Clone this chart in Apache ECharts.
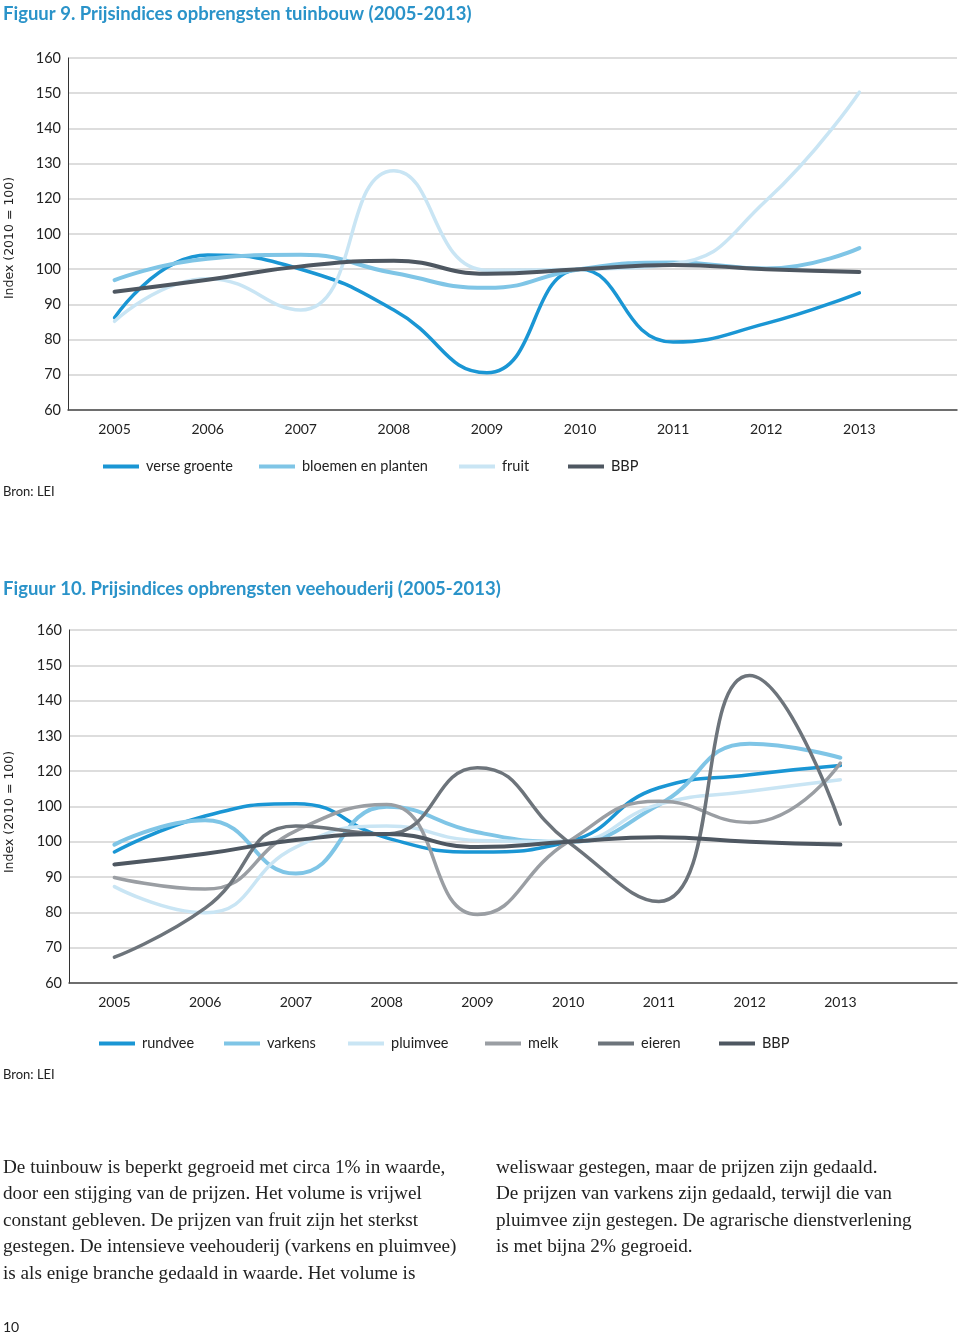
<!DOCTYPE html>
<html>
<head>
<meta charset="utf-8">
<script src="https://cdn.jsdelivr.net/npm/echarts@6/dist/echarts.min.js"></script>
<style>
html,body{margin:0;padding:0;background:#fff;}
#c{width:960px;height:1333px;}
</style>
</head>
<body>
<div id="c"></div>
<script>
// ---- data ----
const years = [2005, 2006, 2007, 2008, 2009, 2010, 2011, 2012, 2013];
const yTickLabels = ['60', '70', '80', '90', '100', '100', '120', '130', '140', '150', '160'];

// Figuur 9 - tuinbouw
const verseGroente = [86.2, 104.0, 100.0, 88.4, 70.6, 100.0, 79.3, 84.6, 93.3];
const bloemenPlanten = [96.9, 103.0, 104.1, 98.9, 94.7, 100.0, 101.9, 100.2, 106.0];
const fruit = [85.2, 97.3, 88.4, 128.0, 99.7, 100.0, 101.5, 119.5, 150.3];
const bbp = [93.6, 97.0, 100.8, 102.4, 98.7, 100.0, 101.2, 100.0, 99.2];

// Figuur 10 - veehouderij
const rundvee = [97.1, 107.3, 110.8, 101.1, 97.1, 100.0, 115.3, 119.0, 121.6];
const varkens = [99.2, 106.1, 91.0, 109.9, 102.7, 100.0, 110.5, 127.8, 123.8];
const pluimvee = [87.3, 79.9, 98.5, 104.5, 100.4, 100.0, 110.6, 114.3, 117.6];
const melk = [89.9, 86.6, 103.1, 110.6, 79.4, 100.0, 111.5, 105.5, 122.3];
const eieren = [67.3, 81.2, 104.5, 102.2, 121.0, 100.0, 83.1, 147.1, 105.0];
const bbp2 = [93.6, 96.6, 100.5, 102.2, 98.5, 100.0, 101.3, 100.0, 99.2];

const title1 = 'Figuur 9. Prijsindices opbrengsten tuinbouw (2005-2013)';
const title2 = 'Figuur 10. Prijsindices opbrengsten veehouderij (2005-2013)';
const yName = 'Index (2010 = 100)';
const source = 'Bron: LEI';
const bodyLeft = [
  'De tuinbouw is beperkt gegroeid met circa 1% in waarde,',
  'door een stijging van de prijzen. Het volume is vrijwel',
  'constant gebleven. De prijzen van fruit zijn het sterkst',
  'gestegen. De intensieve veehouderij (varkens en pluimvee)',
  'is als enige branche gedaald in waarde. Het volume is'
];
const bodyRight = [
  'weliswaar gestegen, maar de prijzen zijn gedaald.',
  'De prijzen van varkens zijn gedaald, terwijl die van',
  'pluimvee zijn gestegen. De agrarische dienstverlening',
  'is met bijna 2% gegroeid.'
];
const pageNo = '10';

// ---- styling ----
const C = {
  blue: '#1a96d4', mid: '#7fc5e6', light: '#c9e5f4', bbp: '#4e5761',
  melk: '#9a9ea3', eieren: '#6d747b'
};
const labelFont = 'Lato, "Open Sans", sans-serif';

function pairs(vals) { return years.map((y, i) => [y, vals[i]]); }

function xAxis(gi, max) {
  return {
    type: 'value', gridIndex: gi, min: 2004.5, max: max, interval: 0.5,
    axisLine: { show: true, lineStyle: { color: '#4a4a4a', width: 1.5 } },
    axisTick: { show: false },
    splitLine: { show: false },
    axisLabel: {
      margin: 12, fontFamily: labelFont, fontSize: 14, color: '#222',
      formatter: v => (Math.abs(v - Math.round(v)) < 1e-6 && years.indexOf(Math.round(v)) >= 0) ? String(Math.round(v)) : ''
    }
  };
}
function yAxis(gi) {
  return {
    type: 'value', gridIndex: gi, min: 60, max: 160, interval: 10,
    axisLine: { show: true, lineStyle: { color: '#333', width: 1 } },
    axisTick: { show: false },
    splitLine: { show: true, lineStyle: { color: '#d2d2d2', width: 1.5 } },
    axisLabel: {
      margin: 7, fontFamily: labelFont, fontSize: 14.5, color: '#222',
      formatter: v => yTickLabels[Math.round((v - 60) / 10)]
    }
  };
}
function line(name, vals, color, width, gi) {
  return {
    type: 'line', name: name, xAxisIndex: gi, yAxisIndex: gi,
    data: pairs(vals), smooth: 0.5, showSymbol: false, symbol: 'none',
    itemStyle: { color: color },
    lineStyle: { color: color, width: width, cap: 'round' },
    emphasis: { disabled: true }
  };
}
function legend(name, left, top) {
  return {
    data: [name], left: left, top: top, icon: 'rect', itemWidth: 36, itemHeight: 4,
    itemGap: 0, selectedMode: false, padding: 0,
    textStyle: { fontFamily: labelFont, fontSize: 14.5, color: '#222', padding: [0, 0, 0, 2] }
  };
}
function txt(x, y, text, font, color) {
  return {
    type: 'text', x: x, y: y, silent: true,
    style: { text: text, font: font, fill: color, verticalAlign: 'middle' }
  };
}

const graphics = [];
graphics.push(txt(3, 14, title1, 'bold 18.5px Lato, sans-serif', '#2a93c9'));
graphics.push(txt(3, 589, title2, 'bold 18.5px Lato, sans-serif', '#2a93c9'));
graphics.push({ type: 'text', x: 10, y: 238, rotation: Math.PI / 2, silent: true,
  style: { text: yName, font: '12.5px "DejaVu Sans", sans-serif', fill: '#222', align: 'center', verticalAlign: 'middle' } });
graphics.push({ type: 'text', x: 10, y: 812, rotation: Math.PI / 2, silent: true,
  style: { text: yName, font: '12.5px "DejaVu Sans", sans-serif', fill: '#222', align: 'center', verticalAlign: 'middle' } });
graphics.push(txt(3, 492, source, '13px Lato, sans-serif', '#222'));
graphics.push(txt(3, 1075, source, '13px Lato, sans-serif', '#222'));
bodyLeft.forEach((t, i) => graphics.push(txt(3, 1168 + i * 26.4, t, '19.2px "Liberation Serif", serif', '#222')));
bodyRight.forEach((t, i) => graphics.push(txt(496, 1168 + i * 26.4, t, '19.2px "Liberation Serif", serif', '#222')));
graphics.push(txt(3, 1327, pageNo, '14px Lato, sans-serif', '#222'));

const chart = echarts.init(document.getElementById('c'), null, { renderer: 'canvas' });
chart.setOption({
  animation: false,
  backgroundColor: '#fff',
  grid: [
    { left: 68, top: 58, width: 889, height: 352 },
    { left: 69, top: 630, width: 888, height: 353 }
  ],
  xAxis: [xAxis(0, 2004.5 + 889 / 93.1), xAxis(1, 2004.5 + 888 / 90.75)],
  yAxis: [yAxis(0), yAxis(1)],
  legend: [
    legend('verse groente', 103, 459),
    legend('bloemen en planten', 259, 459),
    legend('fruit', 459, 459),
    legend('BBP', 568, 459),
    legend('rundvee', 99, 1036),
    legend('varkens', 224, 1036),
    legend('pluimvee', 348, 1036),
    legend('melk', 485, 1036),
    legend('eieren', 598, 1036),
    legend('BBP', 719, 1036)
  ],
  series: [
    line('verse groente', verseGroente, C.blue, 3.5, 0),
    line('bloemen en planten', bloemenPlanten, C.mid, 4, 0),
    line('fruit', fruit, C.light, 3.5, 0),
    line('BBP', bbp, C.bbp, 4, 0),
    line('rundvee', rundvee, C.blue, 3.5, 1),
    line('varkens', varkens, C.mid, 4, 1),
    line('pluimvee', pluimvee, C.light, 3.5, 1),
    line('melk', melk, C.melk, 3.5, 1),
    line('eieren', eieren, C.eieren, 3.5, 1),
    line('BBP', bbp2, C.bbp, 4, 1)
  ],
  graphic: graphics
});
</script>
</body>
</html>
